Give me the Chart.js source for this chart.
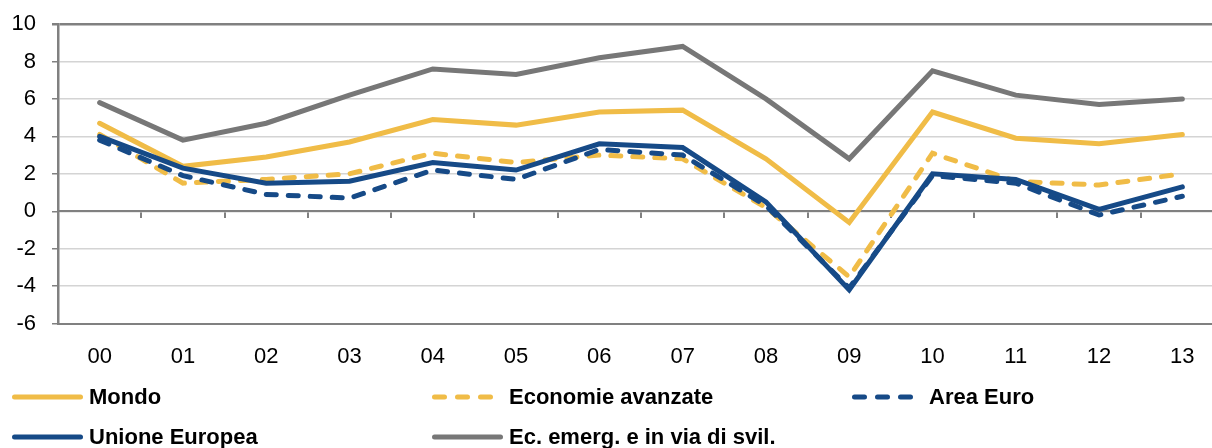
<!DOCTYPE html>
<html>
<head>
<meta charset="utf-8">
<script src="https://cdn.jsdelivr.net/npm/chart.js@4/dist/chart.umd.min.js"></script>
<style>
  html, body { margin: 0; padding: 0; background: #fff; overflow: hidden; }
  #wrap { width: 1226px; height: 448px; position: relative; }
</style>
</head>
<body>
<div id="wrap"><canvas id="growthChart"></canvas></div>
<script>
var years = ['00', '01', '02', '03', '04', '05', '06', '07', '08', '09', '10', '11', '12', '13'];
var yTicks = [-6, -4, -2, 0, 2, 4, 6, 8, 10];

var mondo = [4.7, 2.4, 2.9, 3.7, 4.9, 4.6, 5.3, 5.4, 2.8, -0.6, 5.3, 3.9, 3.6, 4.1];
var economieAvanzate = [4.1, 1.5, 1.7, 2.0, 3.1, 2.6, 3.0, 2.8, 0.2, -3.5, 3.1, 1.6, 1.4, 2.0];
var areaEuro = [3.8, 1.9, 0.9, 0.7, 2.2, 1.7, 3.3, 3.0, 0.3, -4.1, 1.9, 1.5, -0.2, 0.8];
var unioneEuropea = [4.0, 2.3, 1.5, 1.6, 2.6, 2.2, 3.6, 3.4, 0.5, -4.2, 2.0, 1.7, 0.1, 1.3];
var ecEmergenti = [5.8, 3.8, 4.7, 6.2, 7.6, 7.3, 8.2, 8.8, 6.0, 2.8, 7.5, 6.2, 5.7, 6.0];

var yellow = '#F0BC47'
var blue = '#164A87'
var grey = '#777777'
var axisGrey = '#808080'

function line(label, data, color, dashed, order) {
    return {
        label: label,
        data: data,
        borderColor: color,
        backgroundColor: color,
        borderWidth: 5,
        borderDash: dashed ? [10, 12] : [],
        borderCapStyle: 'round',
        borderJoinStyle: 'miter',
        pointRadius: 0,
        pointHoverRadius: 0,
        tension: 0,
        fill: false,
        order: order
    }
}

// legend drawn on the canvas in three columns, like the original
var legendPlugin = {
    id: 'gridLegend',
    afterDraw: function (chart) {
        var ctx = chart.ctx
        var cols = [12, 432, 852]
        var rows = [397, 437]
        ctx.save()
        chart.data.datasets.forEach(function (ds, i) {
            var x = cols[i % 3]
            var y = rows[Math.floor(i / 3)]
            ctx.beginPath()
            ctx.lineWidth = 5
            ctx.lineCap = 'round'
            ctx.strokeStyle = ds.borderColor
            if (ds.borderDash.length) {
                ctx.setLineDash([10, 13])
                ctx.moveTo(x + 2.5, y)
                ctx.lineTo(x + 62, y)
            } else {
                ctx.setLineDash([])
                ctx.moveTo(x + 2.5, y)
                ctx.lineTo(x + 68.5, y)
            }
            ctx.stroke()
            ctx.setLineDash([])
            ctx.fillStyle = '#000'
            ctx.font = 'bold 22px "Liberation Sans", Arial, sans-serif'
            ctx.textBaseline = 'middle'
            ctx.fillText(ds.label, x + 77, y + 1)
        })
        ctx.restore()
    }
}

var ctx = document.getElementById('growthChart').getContext('2d')
var growthChart = new Chart(ctx, {
    type: 'line',
    data: {
        labels: years,
        datasets: [
            line('Mondo', mondo, yellow, false, 5),
            line('Economie avanzate', economieAvanzate, yellow, true, 4),
            line('Area Euro', areaEuro, blue, true, 3),
            line('Unione Europea', unioneEuropea, blue, false, 2),
            line('Ec. emerg. e in via di svil.', ecEmergenti, grey, false, 1)
        ]
    },
    plugins: [legendPlugin],
    options: {
        responsive: true,
        maintainAspectRatio: false,
        animation: false,
        layout: { padding: { top: 24, right: 2, bottom: 58, left: 0 } },
        plugins: {
            legend: { display: false },
            tooltip: { enabled: false }
        },
        scales: {
            x: {
                type: 'category',
                offset: true,
                grid: { display: false, drawTicks: false },
                border: { display: true, color: axisGrey, width: 2 },
                ticks: {
                    color: '#000',
                    padding: 20,
                    maxRotation: 0,
                    autoSkip: false,
                    font: { family: '"Liberation Sans", Arial, sans-serif', size: 22 }
                }
            },
            xZero: {
                type: 'category',
                position: { y: 0 },
                offset: true,
                grid: {
                    offset: true,
                    drawOnChartArea: false,
                    drawTicks: true,
                    tickLength: 6,
                    color: axisGrey,
                    lineWidth: 2
                },
                border: { display: true, color: axisGrey, width: 2 },
                ticks: { display: false }
            },
            y: {
                min: -6,
                max: 10,
                afterBuildTicks: function (scale) {
                    scale.ticks = yTicks.map(function (v) { return { value: v } })
                },
                afterFit: function (scale) {
                    scale.width = 58
                    scale.paddingTop = 0
                    scale.paddingBottom = 0
                },
                grid: {
                    drawTicks: true,
                    tickLength: 6,
                    color: function (c) {
                        if (c.type === 'tick' && c.tick && c.tick.value === 10) return axisGrey
                        return '#D4D4D4'
                    },
                    tickColor: axisGrey,
                    lineWidth: function (c) {
                        if (c.tick && c.tick.value === 10) return 2.5
                        return 1.5
                    }
                },
                border: { display: true, color: axisGrey, width: 2.5 },
                ticks: {
                    color: '#000',
                    padding: 16,
                    font: { family: '"Liberation Sans", Arial, sans-serif', size: 22 }
                }
            }
        }
    }
});
</script>
</body>
</html>
